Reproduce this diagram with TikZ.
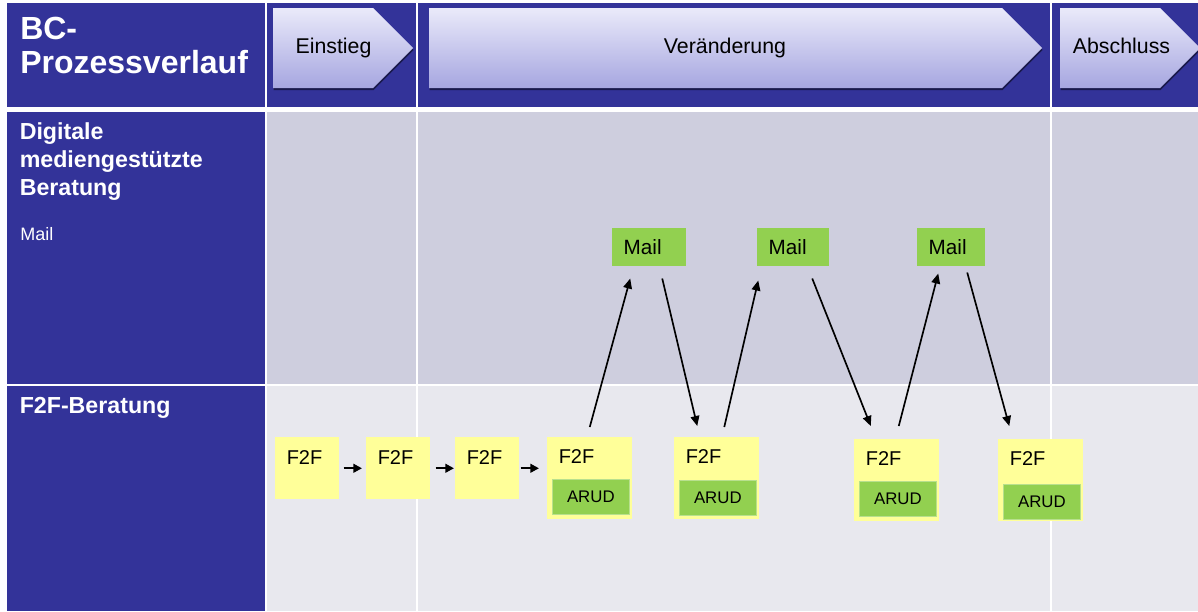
\documentclass[tikz,border=0pt]{standalone}
\usepackage{fontspec}
\setmainfont{Liberation Sans}
\usetikzlibrary{arrows.meta,shadows}
\definecolor{navy}{RGB}{51,51,153}
\definecolor{lanetop}{RGB}{206,206,222}
\definecolor{lanebot}{RGB}{232,232,238}
\definecolor{chevtop}{RGB}{234,234,250}
\definecolor{chevbot}{RGB}{166,166,224}
\definecolor{f2fyellow}{RGB}{255,255,153}
\definecolor{mailgreen}{RGB}{146,208,80}
\tikzset{
  >={Triangle[length=7.5pt,width=6.5pt]},
  chevron/.style={top color=chevtop,bottom color=chevbot,drop shadow={shadow xshift=0.5pt,shadow yshift=-1.5pt,opacity=0.5,fill=black}},
  phase/.style={anchor=base,inner sep=0,font=\fontsize{16pt}{19pt}\selectfont},
  lanehead/.style={anchor=north west,inner sep=0,text=white,align=left,font=\bfseries\fontsize{17.4pt}{21pt}\selectfont},
  f2f/.style={fill=f2fyellow,anchor=north west,inner sep=0,minimum width=48pt,minimum height=46.5pt},
  bigf2f/.style={f2f,minimum width=63.75pt,minimum height=61.5pt},
  f2ftext/.style={anchor=base west,inner sep=0,font=\fontsize{15pt}{18pt}\selectfont},
  arud/.style={fill=mailgreen,draw=mailgreen!65!white,line width=0.5pt,anchor=north west,inner sep=0,minimum width=57.75pt,minimum height=26.25pt,font=\fontsize{12.6pt}{15pt}\selectfont},
  mail/.style={fill=mailgreen,anchor=north west,inner xsep=8.6pt,inner ysep=0,minimum height=28.5pt,text width=#1,align=left,font=\fontsize{15.5pt}{18pt}\selectfont},
  hop/.style={->,line width=1.6pt,>={Triangle[length=6.5pt,width=6.5pt]}},
  flow/.style={->,line width=1.25pt}
}
\begin{document}
\begin{tikzpicture}[x=0.75pt,y=-0.75pt]
  \useasboundingbox (0,0) rectangle (1198,611);
  \fill[white] (0,0) rectangle (1198,611);

  % grid
  \fill[navy] (7,3) rectangle (265,107);
  \fill[navy] (7,112) rectangle (265,384);
  \fill[navy] (7,386) rectangle (265,611);
  \foreach \xa/\xb in {267/416,418/1050,1052/1198} {
    \fill[navy] (\xa,3) rectangle (\xb,107);
    \fill[lanetop] (\xa,112) rectangle (\xb,384);
    \fill[lanebot] (\xa,386) rectangle (\xb,611);
  }

  % phases
  \path[chevron] (273,8) -- (373,8) -- (413,48) -- (373,88) -- (273,88) -- cycle;
  \path[chevron] (429,8) -- (1002,8) -- (1042,48) -- (1002,88) -- (429,88) -- cycle;
  \path[chevron] (1060,8) -- (1160,8) -- (1200,48) -- (1160,88) -- (1060,88) -- cycle;
  \node[phase] (einstieg) at (333.5,53) {Einstieg};
  \node[phase] (veraenderung) at (725,53) {Veränderung};
  \node[phase] (abschluss) at (1121.5,53) {Abschluss};

  % row heads
  \node[lanehead,font=\bfseries\fontsize{24pt}{25.5pt}\selectfont] (title) at (20,17) {BC-\\Prozessverlauf};
  \node[lanehead] (digital) at (19.5,122) {Digitale\\mediengestützte\\Beratung};
  \node[anchor=base west,inner sep=0,text=white,font=\fontsize{13.5pt}{16pt}\selectfont] (mailhead) at (20,240) {Mail};
  \node[lanehead,anchor=base west] (f2fhead) at (19.5,413.5) {F2F-Beratung};

  % F2F sessions
  \foreach \n/\x in {1/275,2/366,3/455} {
    \node[f2f] (f2f\n) at (\x,437) {};
    \node[f2ftext] (f2f\n txt) at ([shift={(11.5,27)}]f2f\n.north west) {F2F};
  }
  \foreach \n/\x/\y/\dy in {4/547/437/42,5/674/437/43,6/854/439/42,7/998/439/45} {
    \node[bigf2f] (f2f\n) at (\x,\y) {};
    \node[f2ftext] (f2f\n txt) at ([shift={(11.5,26)}]f2f\n.north west) {F2F};
    \node[arud] (arud\n) at ([shift={(5,\dy)}]f2f\n.north west) {ARUD};
  }

  % mails
  \node[mail=38.25pt] (mail1) at (612,228) {Mail};
  \node[mail=36.75pt] (mail2) at (757,228) {Mail};
  \node[mail=33.75pt] (mail3) at (917,228) {Mail};

  \draw[hop,shorten <=3pt,shorten >=3pt] (f2f1.east) -- (f2f2.west);
  \draw[hop,shorten <=3.75pt,shorten >=0.75pt] (f2f2.east) -- (f2f3.west);
  \draw[hop,shorten <=0.75pt,shorten >=6pt] (f2f3.east) -- (f2f3.east -| f2f4.west);

  \draw[flow] ([shift={(0,-10)}]f2f4.north) -- ([shift={(-19,12)}]mail1.south);
  \draw[flow] ([shift={(13,12)}]mail1.south) -- ([shift={(-19.5,-11)}]f2f5.north);
  \draw[flow] ([shift={(7.5,-10)}]f2f5.north) -- ([shift={(-35,14)}]mail2.south);
  \draw[flow] ([shift={(19,12)}]mail2.south) -- ([shift={(-26,-13)}]f2f6.north);
  \draw[flow] ([shift={(2,-13)}]f2f6.north) -- ([shift={(-13,7)}]mail3.south);
  \draw[flow] ([shift={(16,6)}]mail3.south) -- ([shift={(-31.5,-13)}]f2f7.north);
\end{tikzpicture}
\end{document}
